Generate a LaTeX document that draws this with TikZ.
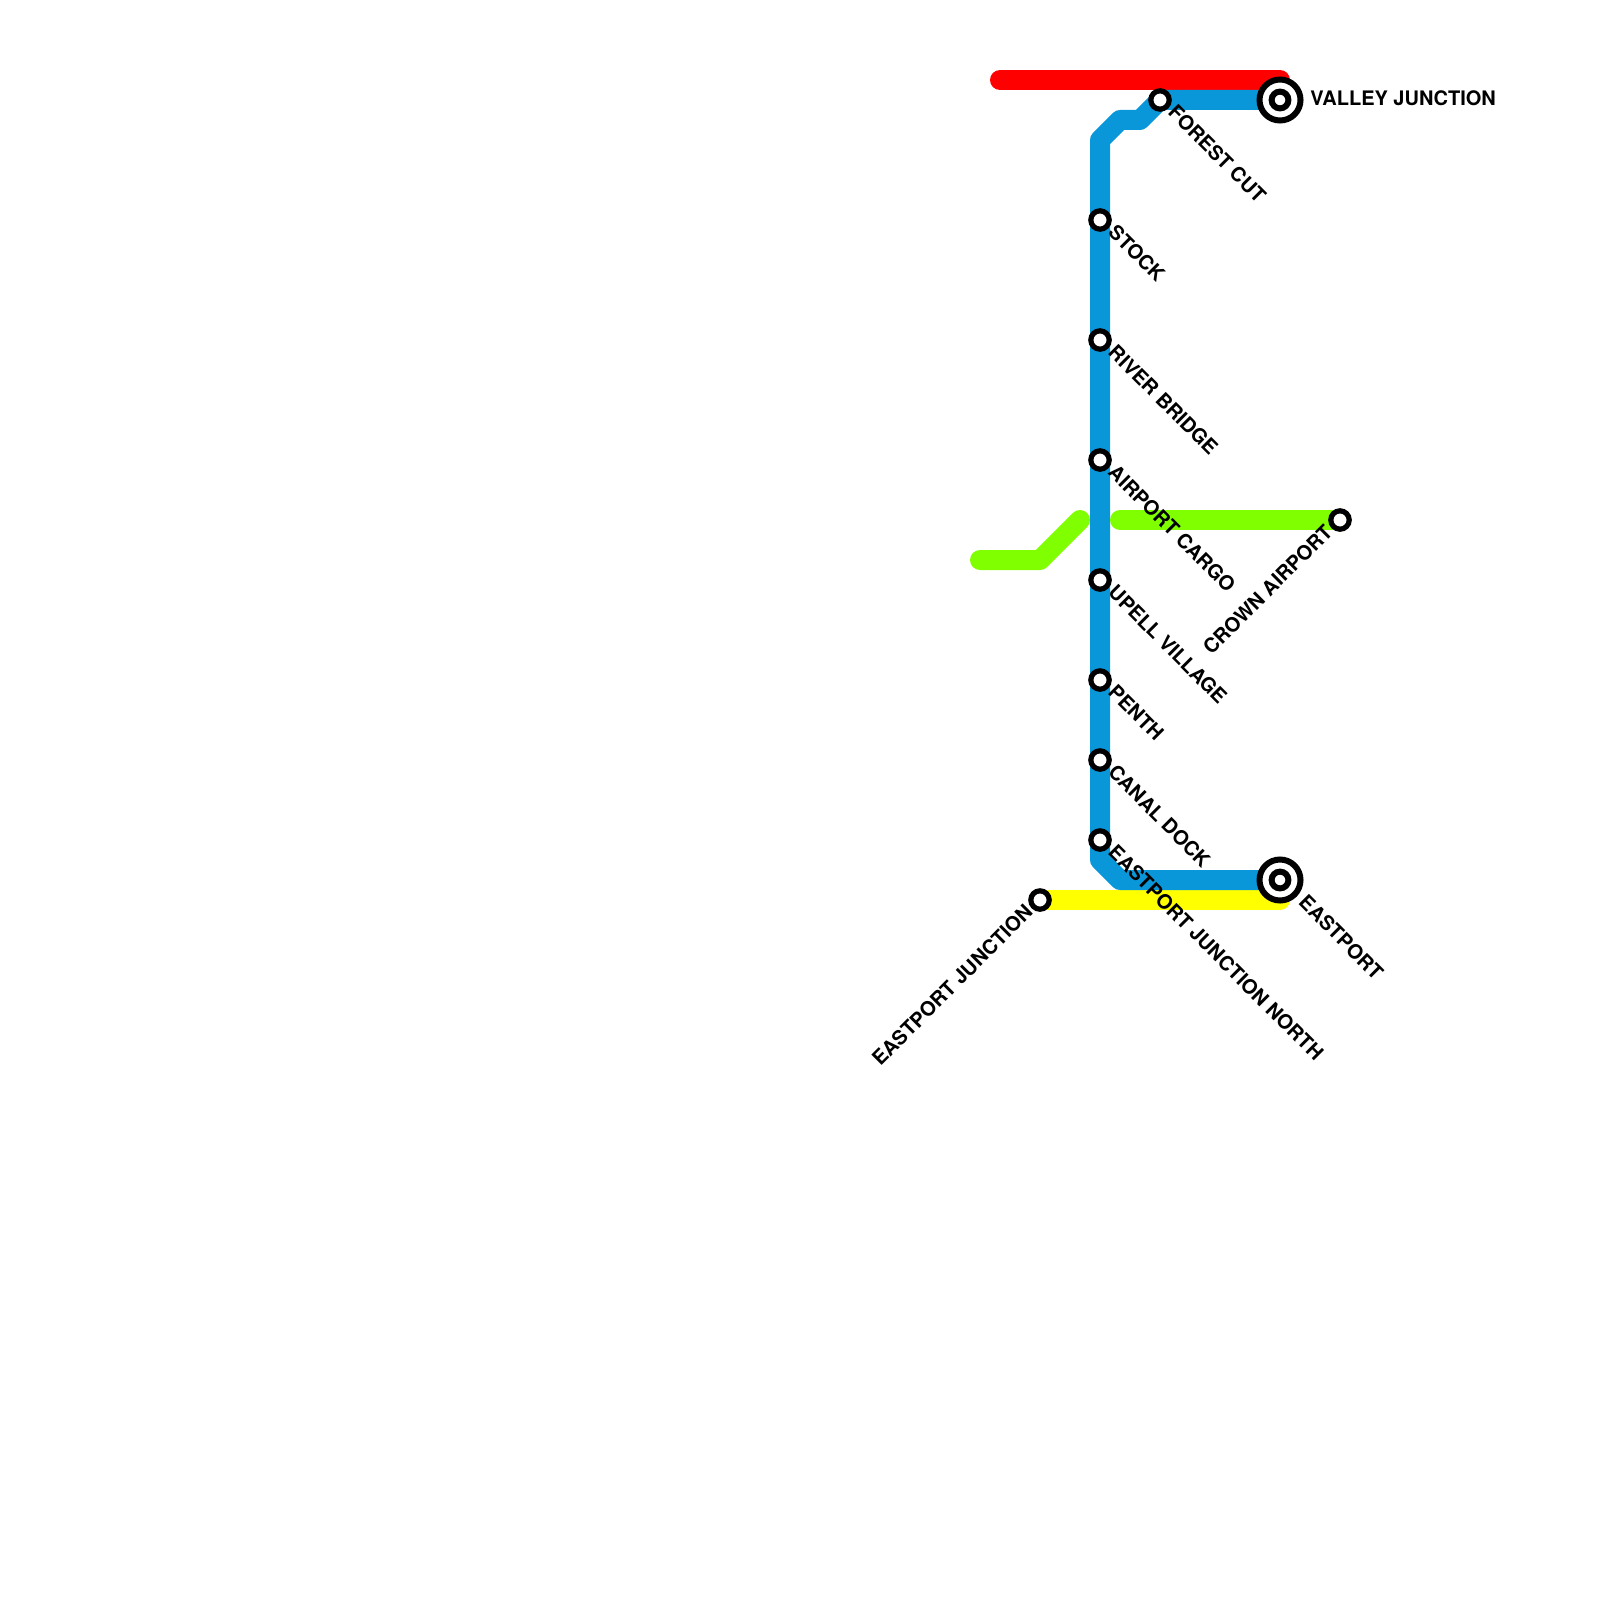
\documentclass[tikz,border=0pt]{standalone}
\usepackage{fontspec}
\setmainfont{TeX Gyre Heros}
\definecolor{lblue}{HTML}{0A97D9}
\definecolor{lgreen}{RGB}{128,255,0}
\definecolor{lred}{RGB}{255,0,0}
\definecolor{lyellow}{RGB}{255,255,0}
\tikzset{
  x=0.5pt,y=-0.5pt,
  metro/.style={line width=10pt,line cap=round,line join=round},
  stn/.style={circle,draw=black,fill=white,line width=2.6pt,minimum size=9.2pt,inner sep=0pt},
  term/.style={circle,draw=black,fill=white,line width=3pt,minimum size=20.5pt,inner sep=0pt},
  termin/.style={circle,draw=black,fill=white,line width=3pt,minimum size=8.4pt,inner sep=0pt},
  lbl/.style={font=\fontsize{10pt}{11pt}\selectfont\bfseries,inner sep=0pt,text=black},
  lse/.style={lbl,anchor=west,rotate=-45},
  lsw/.style={lbl,anchor=east,rotate=45},
}
\begin{document}
\begin{tikzpicture}
\useasboundingbox (0,0) rectangle (1600,1600);
\coordinate (r1) at (1000,80);
\coordinate (r2) at (1280,80);
\coordinate (b1) at (1140,120);
\coordinate (b2) at (1120,120);
\coordinate (b3) at (1100,140);
\coordinate (b4) at (1100,860);
\coordinate (b5) at (1120,880);
\coordinate (y1) at (1280,900);
\coordinate (g1) at (980,560);
\coordinate (g2) at (1040,560);
\coordinate (g3) at (1080,520);
\coordinate (g4) at (1120,520);
\coordinate (vj) at (1280,100);
\coordinate (ep) at (1280,880);
\coordinate (fc) at (1160,100);
\coordinate (ej) at (1040,900);
\coordinate (ca) at (1340,520);
\draw[metro,lred] (r1) -- (r2) -- (vj);
\draw[metro,lyellow] (ej) -- (y1) -- (ep);
\draw[metro,lblue] (vj) -- (fc) -- (b1) -- (b2) -- (b3) -- (b4) -- (b5) -- (ep);
\draw[metro,lgreen] (g1) -- (g2) -- (g3);
\draw[metro,lgreen] (g4) -- (ca);
\node[stn] (sfc) at (fc) {};
\node[stn] (sst) at (1100,220) {};
\node[stn] (srb) at (1100,340) {};
\node[stn] (sac) at (1100,460) {};
\node[stn] (suv) at (1100,580) {};
\node[stn] (spe) at (1100,680) {};
\node[stn] (scd) at (1100,760) {};
\node[stn] (sej) at (1100,840) {};
\node[stn] (seg) at (ej) {};
\node[stn] (sca) at (ca) {};
\node[term] (tvj) at (vj) {};
\node[termin] (ivj) at (vj) {};
\node[term] (tep) at (ep) {};
\node[termin] (iep) at (ep) {};
\node[lbl,anchor=west] (lvj) at (1310,98) {VALLEY JUNCTION};
\node[lse] (lfc) at (1172,108.5) {FOREST CUT};
\node[lse] (lst) at (1112,228.5) {STOCK};
\node[lse] (lrb) at (1112,348.5) {RIVER BRIDGE};
\node[lse] (lac) at (1112,468.5) {AIRPORT CARGO};
\node[lse] (luv) at (1112,588.5) {UPELL VILLAGE};
\node[lse] (lpe) at (1112,688.5) {PENTH};
\node[lse] (lcd) at (1112,768.5) {CANAL DOCK};
\node[lse] (lej) at (1112,848.5) {EASTPORT JUNCTION NORTH};
\node[lse] (lep) at (1302.5,898.5) {EASTPORT};
\node[lsw] (leg) at (1029,908) {EASTPORT JUNCTION};
\node[lsw] (lca) at (1329,528) {CROWN AIRPORT};
\end{tikzpicture}
\end{document}
